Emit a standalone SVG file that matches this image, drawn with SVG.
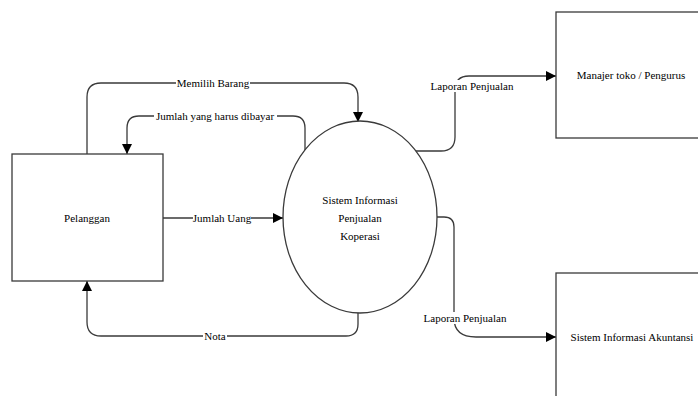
<svg xmlns="http://www.w3.org/2000/svg" width="698" height="396" viewBox="0 0 698 396" font-family="'Liberation Serif', 'DejaVu Serif', serif">
<style>
.shape{fill:#fff;stroke:#3a3a3a;stroke-width:1.3}
.flow{fill:none;stroke:#3a3a3a;stroke-width:1.3;marker-end:url(#arr)}
.bg{fill:#fff}
text{font-family:'Liberation Serif','DejaVu Serif',serif;font-size:11px;fill:#000;text-anchor:middle}
</style>
<defs>
<marker id="arr" viewBox="0 0 10 10" refX="10" refY="5" markerWidth="10" markerHeight="10" markerUnits="userSpaceOnUse" orient="auto">
<path d="M0,0 L10,5 L0,10 z" fill="#000"/>
</marker>
</defs>
<rect width="698" height="396" fill="#fff"/>
<g id="connectors">
<path class="flow" d="M87,154 V97 Q87,83 101,83 H344 Q358,83 358,97 V122"/>
<path class="flow" d="M305,150 V128 Q305,116 293,116 H139 Q127,116 127,128 V154"/>
<path class="flow" d="M163,218 H283"/>
<path class="flow" d="M358,313 V324 Q358,336 346,336 H101 Q87,336 87,322 V281"/>
<path class="flow" d="M413,151 H441 Q455,151 455,137 V90 Q455,76 469,76 H556"/>
<path class="flow" d="M436,217 H444 Q454,217 454,227 V318 Q454,337 476,337 H556"/>
<rect class="bg" x="176" y="77" width="74" height="12"/>
<text x="213" y="87">Memilih Barang</text>
<rect class="bg" x="154" y="110" width="123" height="12"/>
<text x="215" y="120">Jumlah yang harus dibayar</text>
<rect class="bg" x="193" y="212" width="58" height="12"/>
<text x="222" y="222">Jumlah Uang</text>
<rect class="bg" x="203" y="330" width="24" height="12"/>
<text x="215" y="340">Nota</text>
<rect class="bg" x="427" y="80" width="90" height="12"/>
<text x="472" y="90">Laporan Penjualan</text>
<rect class="bg" x="420" y="312" width="90" height="12"/>
<text x="465" y="322">Laporan Penjualan</text>
</g>
<g id="pelanggan">
<rect class="shape" x="12" y="154" width="151" height="127"/>
<text x="87" y="222">Pelanggan</text>
</g>
<g id="sistem">
<ellipse class="shape" cx="360" cy="217" rx="77" ry="96"/>
<text x="360" y="204">Sistem Informasi</text>
<text x="360" y="222">Penjualan</text>
<text x="360" y="240">Koperasi</text>
</g>
<g id="manajer">
<rect class="shape" x="556" y="12" width="150" height="126"/>
<text x="631" y="79">Manajer toko / Pengurus</text>
</g>
<g id="akuntansi">
<rect class="shape" x="556" y="273" width="150" height="126"/>
<text x="632" y="341">Sistem Informasi Akuntansi</text>
</g>
</svg>
